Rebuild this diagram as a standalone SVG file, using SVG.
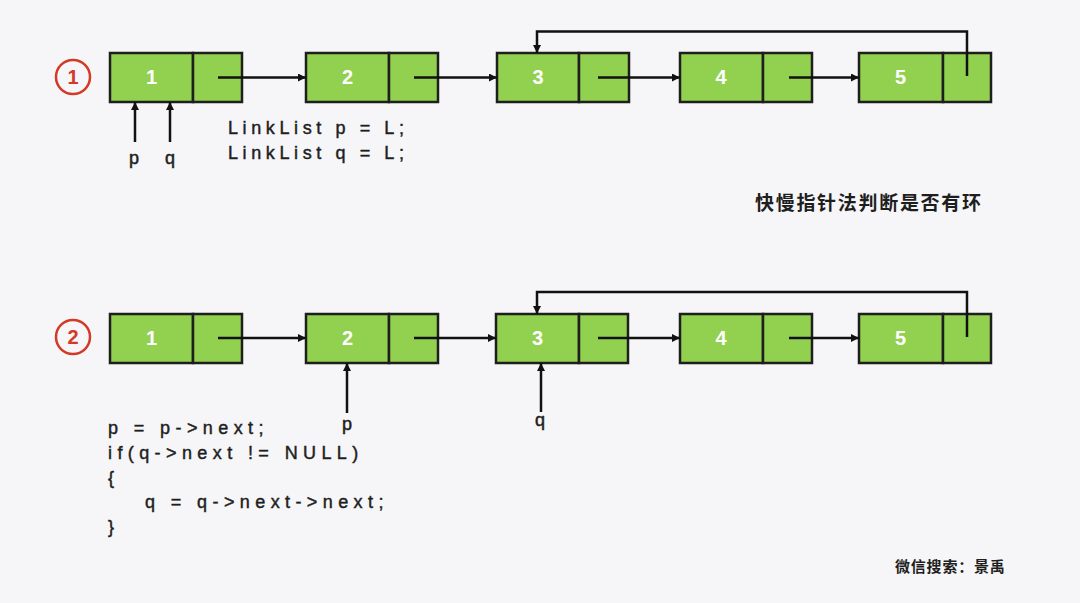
<svg xmlns="http://www.w3.org/2000/svg" width="1080" height="603" viewBox="0 0 1080 603">
<defs>
<marker id="ah" viewBox="0 0 10 10" refX="10" refY="5" markerWidth="9" markerHeight="8" markerUnits="userSpaceOnUse" orient="auto">
<path d="M0,0 L10,5 L0,10 z" fill="#111"/>
</marker>
</defs>
<style>
.cell{fill:#92d050;stroke:#1e1e1e;stroke-width:2.5}
.num{font-family:"Liberation Sans",Arial,sans-serif;font-size:20px;font-weight:bold;fill:#ffffff;text-anchor:middle}
.ln{stroke:#111;stroke-width:2.5;fill:none}
.code{font-family:"Liberation Sans",Arial,sans-serif;font-size:18px;fill:#1e1e1e;stroke:#1e1e1e;stroke-width:0.45px}
.top{letter-spacing:4.6px}
.bot{letter-spacing:5.4px}
.lbl{font-family:"Liberation Sans",Arial,sans-serif;font-size:18px;fill:#1e1e1e;stroke:#1e1e1e;stroke-width:0.5px;text-anchor:middle}
.circ{fill:none;stroke:#d23a26;stroke-width:2.5}
.ctext{font-family:"Liberation Sans",Arial,sans-serif;font-size:20px;font-weight:bold;fill:#d23a26;text-anchor:middle}
.cjk{font-family:"Noto Sans CJK SC","Noto Sans",sans-serif;fill:#1e1e1e;font-weight:bold}
</style>
<rect width="1080" height="603" fill="#f6f6f8"/>

<!-- Row 1 -->
<g id="step1">
<circle class="circ" cx="73" cy="77" r="17"/>
<text class="ctext" x="73" y="84">1</text>
</g>
<g id="r1n1"><rect class="cell" x="110" y="53" width="83" height="49"/><rect class="cell" x="193" y="53" width="49" height="49"/><text class="num" x="151.5" y="84">1</text></g>
<g id="r1n2"><rect class="cell" x="306" y="53" width="83" height="49"/><rect class="cell" x="389" y="53" width="49" height="49"/><text class="num" x="347.5" y="84">2</text></g>
<g id="r1n3"><rect class="cell" x="497" y="53" width="82" height="49"/><rect class="cell" x="579" y="53" width="50" height="49"/><text class="num" x="538" y="84">3</text></g>
<g id="r1n4"><rect class="cell" x="680" y="53" width="83" height="49"/><rect class="cell" x="763" y="53" width="49" height="49"/><text class="num" x="721" y="84">4</text></g>
<g id="r1n5"><rect class="cell" x="859" y="53" width="84" height="49"/><rect class="cell" x="943" y="53" width="48" height="49"/><text class="num" x="900.5" y="84">5</text></g>

<!-- Row 2 -->
<g id="step2">
<circle class="circ" cx="73" cy="337" r="17"/>
<text class="ctext" x="73" y="344">2</text>
</g>
<g id="r2n1"><rect class="cell" x="110" y="314" width="83" height="49"/><rect class="cell" x="193" y="314" width="49" height="49"/><text class="num" x="151.5" y="345">1</text></g>
<g id="r2n2"><rect class="cell" x="306" y="314" width="83" height="49"/><rect class="cell" x="389" y="314" width="49" height="49"/><text class="num" x="347.5" y="345">2</text></g>
<g id="r2n3"><rect class="cell" x="496" y="314" width="83" height="49"/><rect class="cell" x="579" y="314" width="49" height="49"/><text class="num" x="537.5" y="345">3</text></g>
<g id="r2n4"><rect class="cell" x="680" y="314" width="83" height="49"/><rect class="cell" x="763" y="314" width="49" height="49"/><text class="num" x="721" y="345">4</text></g>
<g id="r2n5"><rect class="cell" x="859" y="314" width="84" height="49"/><rect class="cell" x="943" y="314" width="48" height="49"/><text class="num" x="900.5" y="345">5</text></g>

<g id="connectors">
<line class="ln" x1="218" y1="77.5" x2="306" y2="77.5" marker-end="url(#ah)"/>
<line class="ln" x1="414" y1="77.5" x2="497" y2="77.5" marker-end="url(#ah)"/>
<line class="ln" x1="598" y1="77.5" x2="680" y2="77.5" marker-end="url(#ah)"/>
<line class="ln" x1="789" y1="77.5" x2="859" y2="77.5" marker-end="url(#ah)"/>
<polyline class="ln" points="967,76 967,31.5 537,31.5 537,53" marker-end="url(#ah)"/>
<line class="ln" x1="135" y1="142" x2="135" y2="102" marker-end="url(#ah)"/>
<line class="ln" x1="170" y1="142" x2="170" y2="102" marker-end="url(#ah)"/>

<line class="ln" x1="218" y1="338" x2="306" y2="338" marker-end="url(#ah)"/>
<line class="ln" x1="414" y1="338" x2="496" y2="338" marker-end="url(#ah)"/>
<line class="ln" x1="598" y1="338" x2="680" y2="338" marker-end="url(#ah)"/>
<line class="ln" x1="789" y1="338" x2="859" y2="338" marker-end="url(#ah)"/>
<polyline class="ln" points="967,337 967,292 537,292 537,314" marker-end="url(#ah)"/>
<line class="ln" x1="347" y1="413" x2="347" y2="363" marker-end="url(#ah)"/>
<line class="ln" x1="541" y1="412" x2="541" y2="363" marker-end="url(#ah)"/>
</g>

<text class="lbl" x="134" y="164">p</text>
<text class="lbl" x="170" y="164">q</text>
<text class="code top" x="228" y="134">LinkList p = L;</text>
<text class="code top" x="228" y="159">LinkList q = L;</text>

<text class="cjk" x="755" y="210" font-size="19" letter-spacing="1.7">快慢指针法判断是否有环</text>

<text class="lbl" x="347" y="430">p</text>
<text class="lbl" x="540" y="426">q</text>
<text class="code bot" x="108" y="434">p = p-&gt;next;</text>
<text class="code bot" x="108" y="459">if(q-&gt;next != NULL)</text>
<text class="code bot" x="108" y="484">{</text>
<text class="code bot" x="145" y="508">q = q-&gt;next-&gt;next;</text>
<text class="code bot" x="108" y="533">}</text>

<text class="cjk" x="895" y="572" font-size="15" letter-spacing="0.8">微信搜索：景禹</text>
</svg>
